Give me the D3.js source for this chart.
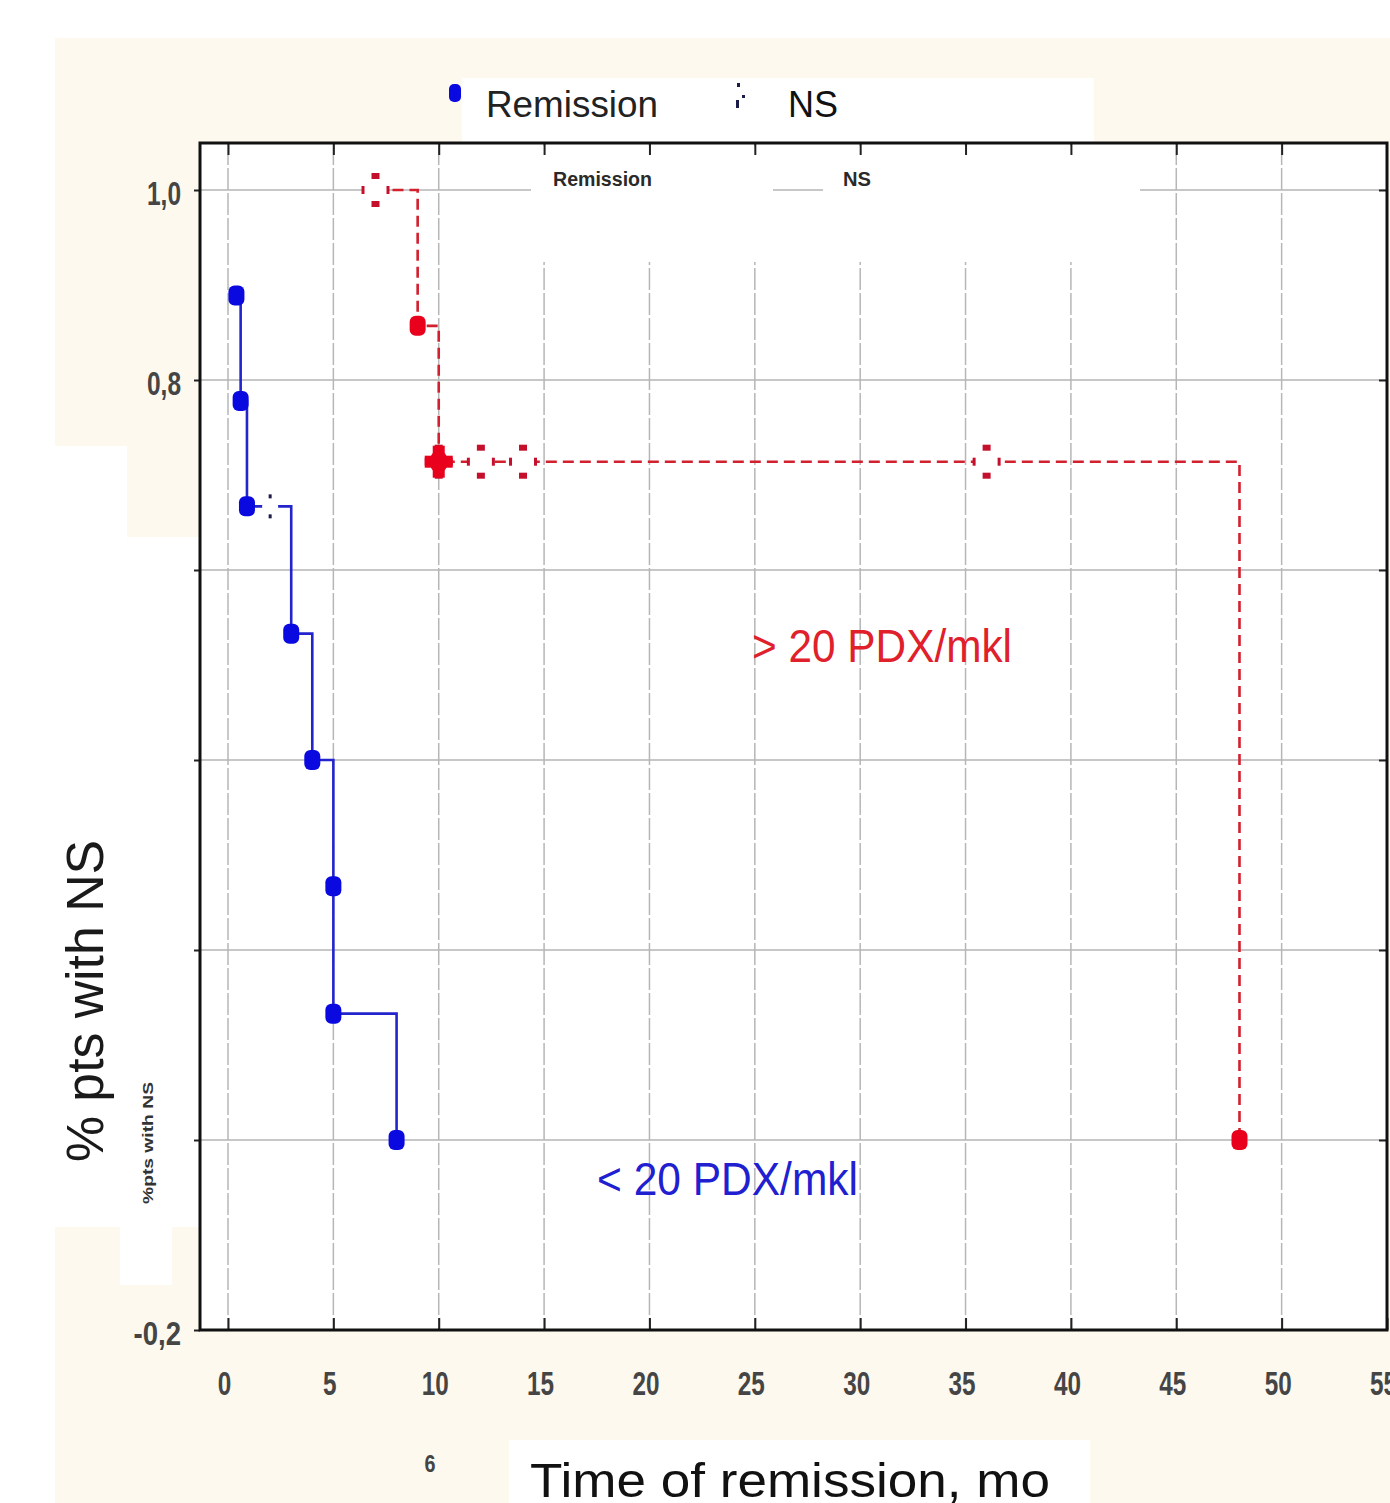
<!DOCTYPE html>
<html>
<head>
<meta charset="utf-8">
<script src="https://cdn.jsdelivr.net/npm/d3@7"></script>
<style>
  body { margin: 0; background: #fff; }
  svg { display: block; }
</style>
</head>
<body>
<div id="chart"></div>
<script>
// Data
var xTicks = [0, 5, 10, 15, 20, 25, 30, 35, 40, 45, 50, 55];
var yGrid = [1.0, 0.8, 0.6, 0.4, 0.2, 0.0, -0.2];
var yLabelled = [1.0, 0.8, -0.2];

// < 20 PDX/mkl group
var lowTimes = [0.4, 0.6, 0.9, 2, 3, 4, 5, 5, 8];
var lowSurv = [0.889, 0.778, 0.667, 0.667, 0.533, 0.4, 0.267, 0.133, 0.0];
var lowCens = [0, 0, 0, 1, 0, 0, 0, 0, 0];

// > 20 PDX/mkl group
var highTimes = [7, 9, 10, 10, 12, 14, 36, 48];
var highSurv = [1.0, 0.857, 0.714, 0.714, 0.714, 0.714, 0.714, 0.0];
var highCens = [1, 0, 0, 1, 1, 1, 1, 0];

var W = 1390, H = 1503;
var plot = {left: 200, top: 143, bottom: 1330};

var svg = d3.select("#chart").append("svg")
  .attr("width", W).attr("height", H);

var x = d3.scaleLinear().domain([0, 55]).range([228, 1387]);
var y = d3.scaleLinear().domain([-0.2, 1.0]).range([1330, 190]);
var plotRight = x(55);

var narrow = "'Liberation Sans Narrow', 'Arial Narrow', 'Liberation Sans', sans-serif";
var sans = "'Liberation Sans', Arial, sans-serif";

// width of the condensed tick digits
function narrowWidth(s) {
  var w = 0;
  for (var i = 0; i < s.length; i++) w += (s[i] === "," ? 7 : 13.5);
  return w;
}

// background panels
svg.append("rect").attr("x", 55).attr("y", 38).attr("width", W - 55).attr("height", H - 38).attr("fill", "#fdf9ef");
[[55, 446, 72, 91], [55, 537, 145, 690], [120, 1227, 52, 58], [462, 78, 632, 65], [509, 1440, 581, 63]]
  .forEach(function(r) {
    svg.append("rect").attr("x", r[0]).attr("y", r[1]).attr("width", r[2]).attr("height", r[3]).attr("fill", "#fff");
  });

// plot area
svg.append("rect").attr("x", plot.left).attr("y", plot.top)
  .attr("width", plotRight - plot.left).attr("height", plot.bottom - plot.top).attr("fill", "#fff");

// grid
svg.append("g").selectAll("line").data(yGrid.filter(function(d) { return d > -0.2; }))
  .enter().append("line")
  .attr("x1", plot.left).attr("x2", plotRight)
  .attr("y1", function(d) { return y(d); }).attr("y2", function(d) { return y(d); })
  .attr("stroke", "#b4b4b4").attr("stroke-width", 1.6);

svg.append("g").selectAll("line").data(xTicks.slice(0, -1))
  .enter().append("line")
  .attr("x1", function(d) { return x(d); }).attr("x2", function(d) { return x(d); })
  .attr("y1", plot.top).attr("y2", plot.bottom)
  .attr("stroke", "#b6b6b6").attr("stroke-width", 1.5)
  .attr("stroke-dasharray", "22,3");

// inner legend box (hides the grid under it)
svg.append("rect").attr("x", 531).attr("y", 146).attr("width", 609).attr("height", 116).attr("fill", "#fff");
svg.append("text").attr("x", 553).attr("y", 186).text("Remission")
  .attr("font-family", sans).attr("font-weight", "bold").attr("font-size", 20).attr("fill", "#2a2a2a")
  .attr("textLength", 99).attr("lengthAdjust", "spacingAndGlyphs");
svg.append("line").attr("x1", 773).attr("x2", 823).attr("y1", y(1)).attr("y2", y(1))
  .attr("stroke", "#b4b4b4").attr("stroke-width", 1.6);
svg.append("text").attr("x", 843).attr("y", 186).text("NS")
  .attr("font-family", sans).attr("font-weight", "bold").attr("font-size", 20).attr("fill", "#2a2a2a")
  .attr("textLength", 28).attr("lengthAdjust", "spacingAndGlyphs");

// axes
var fmt = function(d) { return d3.format(".1f")(d).replace(".", ",").replace("\u2212", "-"); };

var bottomAxis = svg.append("g").attr("transform", "translate(0," + plot.bottom + ")")
  .call(d3.axisBottom(x).tickValues(xTicks).tickSizeInner(-12).tickSizeOuter(0).tickPadding(41));
var topAxis = svg.append("g").attr("transform", "translate(0," + plot.top + ")")
  .call(d3.axisTop(x).tickValues(xTicks.slice(0, -1)).tickSizeInner(-12).tickSizeOuter(0).tickFormat(""));
var leftTicks = svg.append("g").attr("transform", "translate(" + plot.left + ",0)")
  .call(d3.axisLeft(y).tickValues(yGrid).tickSizeInner(6).tickSizeOuter(0).tickFormat(""));
var leftAxis = svg.append("g").attr("transform", "translate(" + plot.left + ",0)")
  .call(d3.axisLeft(y).tickValues(yLabelled).tickSize(0).tickPadding(19).tickFormat(fmt));
var rightAxis = svg.append("g").attr("transform", "translate(" + plotRight + ",0)")
  .call(d3.axisRight(y).tickValues(yGrid.slice(0, -1)).tickSizeInner(-8).tickSizeOuter(0).tickFormat(""));

[bottomAxis, topAxis, leftTicks, leftAxis, rightAxis].forEach(function(a) {
  a.select(".domain").remove();
  a.selectAll(".tick line").attr("stroke", "#222").attr("stroke-width", 2);
});
bottomAxis.selectAll("text").attr("font-family", narrow).attr("font-weight", "bold")
  .attr("font-size", 34).attr("fill", "#454545").attr("dx", -4)
  .attr("textLength", function(d) { return narrowWidth(String(d)); })
  .attr("lengthAdjust", "spacingAndGlyphs");
leftAxis.selectAll("text").attr("font-family", narrow).attr("font-weight", "bold")
  .attr("font-size", 34).attr("fill", "#454545").attr("dy", "0.42em")
  .attr("textLength", function(d) { return narrowWidth(fmt(d)); })
  .attr("lengthAdjust", "spacingAndGlyphs");

// frame
svg.append("rect").attr("x", plot.left).attr("y", plot.top)
  .attr("width", plotRight - plot.left).attr("height", plot.bottom - plot.top)
  .attr("fill", "none").attr("stroke", "#111").attr("stroke-width", 3);

// series
function toPoints(times, surv, cens) {
  return times.map(function(t, i) { return {t: t, s: surv[i], c: cens[i]}; });
}
var low = toPoints(lowTimes, lowSurv, lowCens);
var high = toPoints(highTimes, highSurv, highCens);

var line = d3.line()
  .x(function(d) { return x(d.t); })
  .y(function(d) { return y(d.s); })
  .curve(d3.curveStepAfter);

svg.append("path").datum(low).attr("d", line)
  .attr("fill", "none").attr("stroke", "#2424cc").attr("stroke-width", 2.6);
svg.append("path").datum(high).attr("d", line)
  .attr("fill", "none").attr("stroke", "#d2202e").attr("stroke-width", 2.6)
  .attr("stroke-dasharray", "11,6");

function censorMarks(data, color, big) {
  var g = svg.append("g");
  var pts = data.filter(function(d) { return d.c; });
  var rx = big ? 12 : 8, ry = big ? 14 : 11;
  pts.forEach(function(d) {
    var cx = x(d.t), cy = y(d.s);
    g.append("ellipse").attr("cx", cx).attr("cy", cy).attr("rx", rx).attr("ry", ry).attr("fill", "#fff");
    if (big) {
      g.append("rect").attr("x", cx - 4).attr("y", cy - 17).attr("width", 8).attr("height", 6).attr("fill", color);
      g.append("rect").attr("x", cx - 4).attr("y", cy + 11).attr("width", 8).attr("height", 6).attr("fill", color);
      g.append("rect").attr("x", cx - 14).attr("y", cy - 4).attr("width", 3).attr("height", 8).attr("fill", color);
      g.append("rect").attr("x", cx + 11).attr("y", cy - 4).attr("width", 3).attr("height", 8).attr("fill", color);
    } else {
      g.append("rect").attr("x", cx - 1.5).attr("y", cy - 12).attr("width", 3).attr("height", 4).attr("fill", color);
      g.append("rect").attr("x", cx - 1.5).attr("y", cy + 8).attr("width", 3).attr("height", 4).attr("fill", color);
    }
  });
}
function eventMarks(data, censData, color) {
  var g = svg.append("g");
  data.filter(function(d) { return !d.c; }).forEach(function(d) {
    var cx = x(d.t), cy = y(d.s);
    // an event sharing its time with a censored case draws as a heavier cross
    var shared = censData.some(function(c) { return c.c && c.t === d.t && c.s === d.s; });
    if (shared) {
      g.append("rect").attr("x", cx - 14).attr("y", cy - 6).attr("width", 28).attr("height", 12).attr("fill", color);
      g.append("rect").attr("x", cx - 6).attr("y", cy - 16).attr("width", 12).attr("height", 32).attr("fill", color);
    }
    g.append("rect").attr("x", cx - 8).attr("y", cy - 10)
      .attr("width", 16).attr("height", 20).attr("rx", 6).attr("ry", 6)
      .attr("fill", color);
  });
}
censorMarks(low, "#1c1c4a", false);
censorMarks(high, "#c4102c", true);
eventMarks(low, low, "#0a0ae0");
eventMarks(high, high, "#e8001c");

// top legend
svg.append("rect").attr("x", 449).attr("y", 84).attr("width", 12).attr("height", 18).attr("rx", 5).attr("fill", "#0a0ae0");
svg.append("text").attr("x", 486).attr("y", 117).text("Remission")
  .attr("font-family", sans).attr("font-size", 36).attr("fill", "#222")
  .attr("textLength", 172).attr("lengthAdjust", "spacingAndGlyphs");
[[737, 83, 3, 4], [742, 95, 3, 3], [736, 100, 3, 8]].forEach(function(r) {
  svg.append("rect").attr("x", r[0]).attr("y", r[1]).attr("width", r[2]).attr("height", r[3]).attr("fill", "#1c1c4a");
});
svg.append("text").attr("x", 788).attr("y", 117).text("NS")
  .attr("font-family", sans).attr("font-size", 36).attr("fill", "#111")
  .attr("textLength", 50).attr("lengthAdjust", "spacingAndGlyphs");

// group annotations
svg.append("text").attr("x", 752).attr("y", 662).text("> 20 PDX/mkl")
  .attr("font-family", sans).attr("font-size", 46).attr("fill", "#e0202a")
  .attr("textLength", 260).attr("lengthAdjust", "spacingAndGlyphs");
svg.append("text").attr("x", 597).attr("y", 1195).text("< 20 PDX/mkl")
  .attr("font-family", sans).attr("font-size", 46).attr("fill", "#2020d0")
  .attr("textLength", 261).attr("lengthAdjust", "spacingAndGlyphs");

// axis titles
svg.append("text").attr("transform", "translate(103,1001) rotate(-90)")
  .attr("text-anchor", "middle").text("% pts with NS")
  .attr("font-family", sans).attr("font-size", 51).attr("fill", "#1a1a1a")
  .attr("textLength", 322).attr("lengthAdjust", "spacingAndGlyphs");
svg.append("text").attr("transform", "translate(153,1143) rotate(-90)")
  .attr("text-anchor", "middle").text("%pts with NS")
  .attr("font-family", sans).attr("font-weight", "bold").attr("font-size", 15).attr("fill", "#333")
  .attr("textLength", 122).attr("lengthAdjust", "spacingAndGlyphs");
svg.append("text").attr("x", 530).attr("y", 1497).text("Time of remission, mo")
  .attr("font-family", sans).attr("font-size", 48).attr("fill", "#111")
  .attr("textLength", 520).attr("lengthAdjust", "spacingAndGlyphs");
svg.append("text").attr("x", 430).attr("y", 1472).attr("text-anchor", "middle").text("6")
  .attr("font-family", narrow).attr("font-weight", "bold").attr("font-size", 24).attr("fill", "#444")
  .attr("textLength", 11).attr("lengthAdjust", "spacingAndGlyphs");
</script>
</body>
</html>
